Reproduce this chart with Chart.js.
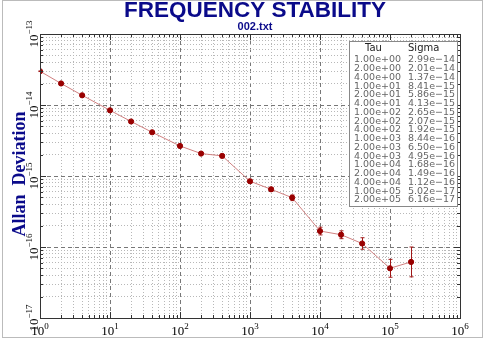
<!DOCTYPE html>
<html>
<head>
<meta charset="utf-8">
<script src="https://cdn.jsdelivr.net/npm/chart.js@4/dist/chart.umd.min.js"></script>
<style>
  html, body { margin: 0; padding: 0; background: #fff; }
  #wrap { width: 484px; height: 338px; position: relative; }
</style>
</head>
<body>
<div id="wrap"><canvas id="stab" width="484" height="338"></canvas></div>
<script>
const tau = [1, 2, 4, 10, 20, 40, 100, 200, 400, 1e3, 2e3, 4e3, 1e4, 2e4, 4e4, 1e5, 2e5];
const sigma = [2.99e-14, 2.01e-14, 1.37e-14, 8.41e-15, 5.86e-15, 4.13e-15, 2.65e-15, 2.07e-15, 1.92e-15,
               8.44e-16, 6.50e-16, 4.95e-16, 1.68e-16, 1.49e-16, 1.12e-16, 5.02e-17, 6.16e-17];
// error bar ends
const sigmaHi = [3.02e-14, 2.03e-14, 1.39e-14, 8.55e-15, 5.97e-15, 4.22e-15, 2.72e-15, 2.14e-15, 2.00e-15,
                 8.9e-16, 6.9e-16, 5.4e-16, 1.90e-16, 1.69e-16, 1.35e-16, 6.7e-17, 1.0e-16];
const sigmaLo = [2.96e-14, 1.99e-14, 1.35e-14, 8.27e-15, 5.75e-15, 4.04e-15, 2.58e-15, 2.00e-15, 1.84e-15,
                 8.0e-16, 6.1e-16, 4.5e-16, 1.48e-16, 1.31e-16, 0.93e-16, 3.75e-17, 3.8e-17];
const tauText = ['1.00e+00', '2.00e+00', '4.00e+00', '1.00e+01', '2.00e+01', '4.00e+01', '1.00e+02', '2.00e+02',
                 '4.00e+02', '1.00e+03', '2.00e+03', '4.00e+03', '1.00e+04', '2.00e+04', '4.00e+04', '1.00e+05', '2.00e+05'];
const sigmaText = ['2.99e\u221214', '2.01e\u221214', '1.37e\u221214', '8.41e\u221215', '5.86e\u221215', '4.13e\u221215',
                   '2.65e\u221215', '2.07e\u221215', '1.92e\u221215', '8.44e\u221216', '6.50e\u221216', '4.95e\u221216',
                   '1.68e\u221216', '1.49e\u221216', '1.12e\u221216', '5.02e\u221217', '6.16e\u221217'];
const xExps = [0, 1, 2, 3, 4, 5, 6];
const yExps = [-17, -16, -15, -14, -13];

const NAVY = '#0a0a8a';

function isMajor(v) {
  const l = Math.log10(v);
  return Math.abs(l - Math.round(l)) < 1e-6;
}

function logTicks(e0, e1) {
  const t = [];
  for (let e = e0; e < e1; e++) {
    for (let m = 1; m <= 9; m++) t.push({ value: m * Math.pow(10, e) });
  }
  t.push({ value: Math.pow(10, e1) });
  return t;
}

// draws "10" with a superscript exponent, centred on (0,0) of current transform
function drawPow(ctx, exp, baseSize) {
  const expStr = String(exp).replace('-', '\u2212');
  ctx.font = baseSize + 'px "Liberation Serif", serif';
  const wb = ctx.measureText('10').width;
  ctx.font = Math.round(baseSize * 0.72) + 'px "Liberation Serif", serif';
  const we = ctx.measureText(expStr).width;
  const x0 = -(wb + we) / 2;
  ctx.textAlign = 'left';
  ctx.textBaseline = 'alphabetic';
  ctx.font = baseSize + 'px "Liberation Serif", serif';
  ctx.fillText('10', x0, baseSize * 0.35);
  ctx.font = Math.round(baseSize * 0.72) + 'px "Liberation Serif", serif';
  ctx.fillText(expStr, x0 + wb, baseSize * 0.35 - baseSize * 0.42);
}

const decorPlugin = {
  id: 'decor',
  beforeDatasetsDraw(chart) {
    const { ctx, scales: { x, y } } = chart;
    ctx.save();
    ctx.strokeStyle = '#a01818';
    ctx.lineWidth = 1;
    tau.forEach((t, i) => {
      const px = Math.round(x.getPixelForValue(t)) + 0.5;
      const yh = y.getPixelForValue(sigmaHi[i]);
      const yl = y.getPixelForValue(sigmaLo[i]);
      ctx.beginPath();
      ctx.moveTo(px, yh); ctx.lineTo(px, yl);
      ctx.moveTo(px - 2, yh); ctx.lineTo(px + 2, yh);
      ctx.moveTo(px - 2, yl); ctx.lineTo(px + 2, yl);
      ctx.stroke();
    });
    ctx.restore();
  },
  afterDraw(chart) {
    const { ctx, chartArea: a, scales: { x, y } } = chart;
    ctx.save();

    // frame
    ctx.strokeStyle = '#333';
    ctx.lineWidth = 1;
    ctx.strokeRect(Math.round(a.left) + 0.5, Math.round(a.top) + 0.5,
                   Math.round(a.right - a.left), Math.round(a.bottom - a.top));

    // inward ticks on all four sides
    ctx.beginPath();
    x.ticks.forEach(t => {
      const px = Math.round(x.getPixelForValue(t.value)) + 0.5;
      const len = isMajor(t.value) ? 6 : 3;
      ctx.moveTo(px, a.bottom); ctx.lineTo(px, a.bottom - len);
      ctx.moveTo(px, a.top); ctx.lineTo(px, a.top + len);
    });
    y.ticks.forEach(t => {
      const py = Math.round(y.getPixelForValue(t.value)) + 0.5;
      const len = isMajor(t.value) ? 6 : 3;
      ctx.moveTo(a.left, py); ctx.lineTo(a.left + len, py);
      ctx.moveTo(a.right, py); ctx.lineTo(a.right - len, py);
    });
    ctx.stroke();

    // tick labels
    ctx.fillStyle = '#000';
    xExps.forEach(e => {
      ctx.save();
      ctx.translate(x.getPixelForValue(Math.pow(10, e)), 330);
      drawPow(ctx, e, 13);
      ctx.restore();
    });
    yExps.forEach(e => {
      ctx.save();
      ctx.translate(33, y.getPixelForValue(Math.pow(10, e)));
      ctx.rotate(-Math.PI / 2);
      drawPow(ctx, e, 13);
      ctx.restore();
    });

    // axis title
    ctx.save();
    ctx.translate(20, 174);
    ctx.rotate(-Math.PI / 2);
    ctx.fillStyle = NAVY;
    ctx.font = 'bold 18px "Liberation Serif", serif';
    ctx.textAlign = 'center';
    ctx.textBaseline = 'middle';
    ctx.fillText('Allan  Deviation', 0, 0);
    ctx.restore();

    // titles
    ctx.fillStyle = NAVY;
    ctx.textAlign = 'center';
    ctx.textBaseline = 'middle';
    ctx.font = 'bold 22.5px "Liberation Sans", Arial, sans-serif';
    ctx.fillText('FREQUENCY STABILITY', 255, 11);
    ctx.font = 'bold 11px "Liberation Sans", Arial, sans-serif';
    ctx.fillText('002.txt', 255, 27);

    // value table box
    const bx = 349.5, by = 41.5, bw = 108, bh = 165;
    ctx.fillStyle = '#fff';
    ctx.fillRect(bx, by, bw, bh);
    ctx.strokeStyle = '#888';
    ctx.strokeRect(bx, by, bw, bh);
    ctx.textAlign = 'left';
    ctx.textBaseline = 'middle';
    ctx.fillStyle = '#222';
    ctx.font = '10px "DejaVu Sans", sans-serif';
    ctx.fillText('Tau', 365, 48);
    ctx.fillText('Sigma', 408, 48);
    ctx.fillStyle = '#666';
    ctx.font = '9.5px "DejaVu Sans", sans-serif';
    tauText.forEach((s, i) => {
      const ty = 60 + i * 8.75;
      ctx.fillText(s, 354, ty);
      ctx.fillText(sigmaText[i], 408, ty);
    });

    // outer border
    ctx.strokeStyle = '#bbb';
    ctx.strokeRect(2.5, 0.5, 480, 337);
    ctx.restore();
  }
};

function gridOpts() {
  return {
    drawTicks: false,
    color: ctx => isMajor(ctx.tick.value) ? '#777' : '#b8b8b8',
    lineWidth: 1
  };
}
function borderOpts() {
  return {
    display: false,
    dash: ctx => (ctx.tick && isMajor(ctx.tick.value)) ? [4, 3] : [1, 2]
  };
}

new Chart(document.getElementById('stab'), {
  type: 'line',
  data: {
    datasets: [{
      data: tau.map((t, i) => ({ x: t, y: sigma[i] })),
      borderColor: '#d08080',
      borderWidth: 1,
      pointBackgroundColor: '#990000',
      pointBorderColor: '#990000',
      pointRadius: 2.6,
      tension: 0
    }]
  },
  options: {
    responsive: false,
    animation: false,
    layout: { padding: { left: 40, right: 24, top: 34, bottom: 20 } },
    plugins: { legend: { display: false }, tooltip: { enabled: false } },
    scales: {
      x: {
        type: 'logarithmic', min: 1, max: 1e6,
        afterBuildTicks: s => { s.ticks = logTicks(0, 6); },
        ticks: { display: false },
        grid: gridOpts(),
        border: borderOpts()
      },
      y: {
        type: 'logarithmic', min: 1e-17, max: 1e-13,
        afterBuildTicks: s => { s.ticks = logTicks(-17, -13); },
        ticks: { display: false },
        grid: gridOpts(),
        border: borderOpts()
      }
    }
  },
  plugins: [decorPlugin]
});
</script>
</body>
</html>
